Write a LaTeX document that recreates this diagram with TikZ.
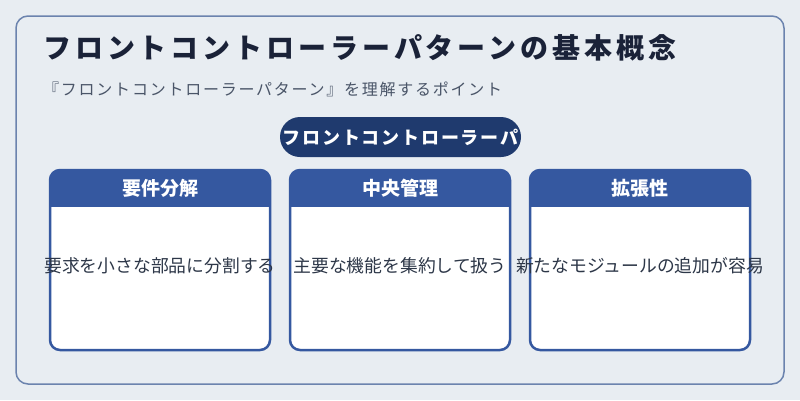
\documentclass[tikz,border=0pt]{standalone}
\usepackage{fontspec}
\newfontfamily\jp{Noto Sans CJK JP}
\newfontfamily\jpsp{Noto Sans CJK JP}[LetterSpace=11]
\newfontfamily\jptitle{Noto Sans CJK JP}[LetterSpace=14]
\newfontfamily\jppill{Noto Sans CJK JP}[LetterSpace=10]
\definecolor{bg}{HTML}{E8EDF2}
\definecolor{frameC}{HTML}{6B83AE}
\definecolor{hdr}{HTML}{3558A0}
\definecolor{pillC}{HTML}{1F3A6E}
\definecolor{titleC}{HTML}{1A2238}
\definecolor{subC}{HTML}{4A5568}
\definecolor{bodyC}{HTML}{2D3748}
\tikzset{
  frm/.style={draw=frameC, line width=1.5pt, rounded corners=12pt, inner sep=0pt},
  card/.style={draw=hdr, line width=2.5pt, rounded corners=10pt,
    minimum width=220pt, minimum height=180pt, inner sep=0pt},
  hdrtxt/.style={text=white, font={\jp\bfseries\fontsize{19}{22}\selectfont}, inner sep=0pt},
  bodytxt/.style={text=bodyC, font={\jp\fontsize{17.8}{21}\selectfont}, inner sep=0pt},
  pill/.style={fill=pillC, rounded corners=20pt, minimum width=241pt, minimum height=40pt, inner sep=0pt,
    text=white, font={\jppill\bfseries\fontsize{18}{21}\selectfont}},
}
\newcommand\cardbg[1]{%
  \begin{scope}
    \clip[rounded corners=10pt] (#1-110,170) rectangle (#1+110,350);
    \fill[white] (#1-110,170) rectangle (#1+110,350);
    \fill[hdr] (#1-110,170) rectangle (#1+110,207);
  \end{scope}}
\begin{document}
\begin{tikzpicture}[x=1pt,y=-1pt]
\fill[bg] (0,0) rectangle (800,400);
\useasboundingbox (0,0) rectangle (800,400);
\node[frm, minimum width=768pt, minimum height=368pt] (frame) at (400,200) {};
\node[anchor=west, inner sep=0pt, text=titleC, font={\jptitle\bfseries\fontsize{28}{32}\selectfont}] (title) at (43,47.5) {フロントコントローラーパターンの基本概念};
\node[anchor=west, inner sep=0pt, text=subC, font={\jpsp\fontsize{16}{19}\selectfont}] (sub) at (43,89.5) {『フロントコントローラーパターン』を理解するポイント};
\node[pill] (center) at (400.5,137) {フロントコントローラーパ};
\cardbg{160}\cardbg{400}\cardbg{640}
\node[card] (c1) at (160,260) {};
\node[card] (c2) at (400,260) {};
\node[card] (c3) at (640,260) {};
\node[hdrtxt] (h1) at (160,188.5) {要件分解};
\node[hdrtxt] (h2) at (400,188.5) {中央管理};
\node[hdrtxt] (h3) at (640,188.5) {拡張性};
\node[bodytxt] (b1) at (160,266) {要求を小さな部品に分割する};
\node[bodytxt] (b2) at (400,266) {主要な機能を集約して扱う};
\node[bodytxt] (b3) at (640,266) {新たなモジュールの追加が容易};
\end{tikzpicture}
\end{document}
